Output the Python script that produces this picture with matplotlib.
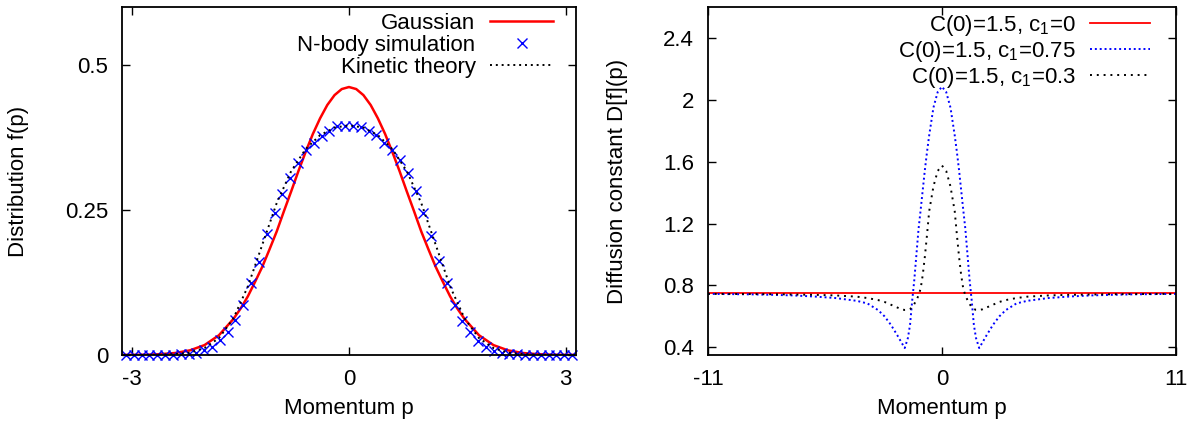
import numpy as np
import matplotlib
matplotlib.use('Agg')
import matplotlib.pyplot as plt

plt.rcParams['font.family'] = ['Liberation Sans', 'DejaVu Sans']
plt.rcParams['mathtext.fontset'] = 'custom'
plt.rcParams['mathtext.rm'] = 'Liberation Sans'
plt.rcParams['mathtext.it'] = 'Liberation Sans:italic'
plt.rcParams['axes.unicode_minus'] = False

# ---- left panel: distribution f(p) ----
gauss_p = [-3.2, -3.0, -2.8, -2.6, -2.4, -2.2, -2.0, -1.8, -1.6, -1.5, -1.4, -1.3, -1.2,
           -1.1, -1.0, -0.9, -0.8, -0.7, -0.6, -0.5, -0.4, -0.3, -0.2, -0.1, 0.0,
           0.1, 0.2, 0.3, 0.4, 0.5, 0.6, 0.7, 0.8, 0.9, 1.0, 1.1, 1.2, 1.3, 1.4, 1.5,
           1.6, 1.8, 2.0, 2.2, 2.4, 2.6, 2.8, 3.0, 3.2]
gauss_f = [0.0001, 0.0003, 0.0005, 0.0015, 0.0035, 0.008, 0.017, 0.034, 0.062, 0.080,
           0.101, 0.126, 0.152, 0.182, 0.213, 0.248, 0.282, 0.317, 0.350, 0.381, 0.408,
           0.431, 0.448, 0.4585, 0.462,
           0.4585, 0.448, 0.431, 0.408, 0.381, 0.350, 0.317, 0.282, 0.248, 0.213, 0.182,
           0.152, 0.126, 0.101, 0.080, 0.062, 0.034, 0.017, 0.008, 0.0035, 0.0015,
           0.0005, 0.0003, 0.0001]

kin_p = [-3.2, -3.0, -2.8, -2.6, -2.4, -2.2, -2.0, -1.8, -1.6, -1.4, -1.2, -1.0, -0.8,
         -0.6, -0.4, -0.2, 0.0, 0.2, 0.4, 0.6, 0.8, 1.0, 1.2, 1.4, 1.6, 1.8, 2.0,
         2.2, 2.4, 2.6, 2.8, 3.0, 3.2]
kin_f = [0.0, 0.0, 0.0, 0.0005, 0.0015, 0.004, 0.012, 0.029, 0.063, 0.118, 0.190,
         0.262, 0.317, 0.355, 0.379, 0.392, 0.396, 0.392, 0.379, 0.355, 0.317, 0.262,
         0.190, 0.118, 0.063, 0.029, 0.012, 0.004, 0.0015, 0.0005, 0.0, 0.0, 0.0]

# N-body histogram, 58 bins on [-pi, pi]
nbody_f = [0, 0, 0, 0, 0, 0, 0, 0.001, 0.002, 0.004, 0.008, 0.014, 0.025, 0.040, 0.060,
           0.087, 0.124, 0.161, 0.208, 0.244, 0.278, 0.306, 0.331, 0.353, 0.366, 0.378,
           0.386, 0.394, 0.395,
           0.395, 0.393, 0.387, 0.379, 0.366, 0.354, 0.337, 0.314, 0.283, 0.244, 0.205,
           0.162, 0.124, 0.087, 0.059, 0.039, 0.024, 0.013, 0.007, 0.004, 0.002, 0.001,
           0, 0, 0, 0, 0, 0, 0]
edges = np.linspace(-np.pi, np.pi, len(nbody_f) + 1)
nbody_p = 0.5 * (edges[1:] + edges[:-1])

# ---- right panel: diffusion constant D[f](p) ----
diff_p = [-11, -9, -8, -7, -6, -5, -4, -3.5, -3.0, -2.7, -2.4, -2.1, -1.9, -1.75, -1.6,
          -1.5, -1.4, -1.3, -1.2, -1.1, -1.0, -0.9, -0.8, -0.7, -0.6, -0.4, -0.2, 0.0,
          0.2, 0.4, 0.6, 0.7, 0.8, 0.9, 1.0, 1.1, 1.2, 1.3, 1.4, 1.5, 1.6, 1.75, 1.9,
          2.1, 2.4, 2.7, 3.0, 3.5, 4, 5, 6, 7, 8, 9, 11]
d_c0 = [0.75] * len(diff_p)
d_c075 = [0.745, 0.742, 0.739, 0.735, 0.728, 0.718, 0.700, 0.683, 0.640, 0.600, 0.545,
          0.478, 0.430, 0.395, 0.460, 0.545, 0.700, 0.835, 1.000, 1.165, 1.290, 1.420,
          1.550, 1.665, 1.770, 1.950, 2.050, 2.085,
          2.050, 1.950, 1.770, 1.665, 1.550, 1.420, 1.290, 1.165, 1.000, 0.835, 0.700,
          0.545, 0.460, 0.395, 0.430, 0.478, 0.545, 0.600, 0.640, 0.683, 0.700, 0.718,
          0.728, 0.735, 0.739, 0.742, 0.745]
d_c03 = [0.745, 0.744, 0.743, 0.741, 0.739, 0.735, 0.727, 0.718, 0.705, 0.693, 0.675,
         0.657, 0.645, 0.641, 0.642, 0.647, 0.658, 0.680, 0.705, 0.735, 0.780, 0.870,
         0.990, 1.130, 1.280, 1.440, 1.540, 1.575,
         1.540, 1.440, 1.280, 1.130, 0.990, 0.870, 0.780, 0.735, 0.705, 0.680, 0.658,
         0.647, 0.642, 0.641, 0.645, 0.657, 0.675, 0.693, 0.705, 0.718, 0.727, 0.735,
         0.739, 0.741, 0.743, 0.744, 0.745]


def style_axes(ax):
    for s in ax.spines.values():
        s.set_linewidth(1.3)
    ax.tick_params(axis='both', which='both', direction='in', length=6, width=1,
                   top=True, right=True, labelsize=16, pad=10)


fs = 16
fig = plt.figure(figsize=(12.04, 4.23), dpi=100)

ax = fig.add_axes([0.1013, 0.1608, 0.3771, 0.8227])
ax.plot(gauss_p, gauss_f, color='#ff0000', lw=1.8, label='Gaussian')
ax.plot(nbody_p, nbody_f, 'x', color='#0000ff', ms=7, mew=1.0, clip_on=False,
        label='N-body simulation')
ax.plot(kin_p, kin_f, color='k', lw=1.4, ls=(0, (1, 2)), label='Kinetic theory')
ax.set_xlim(-np.pi, np.pi)
ax.set_ylim(0, 0.6)
ax.set_xticks([-3, 0, 3])
ax.set_yticks([0, 0.25, 0.5])
ax.set_yticklabels(['0', '0.25', '0.5'])
ax.set_xlabel('Momentum p', fontsize=fs)
ax.set_ylabel('Distribution f(p)', fontsize=fs)
ax.xaxis.set_label_coords(0.5, -0.125)
ax.yaxis.set_label_coords(-0.205, 0.5)
style_axes(ax)
ax.legend(loc='upper right', bbox_to_anchor=(0.95, 0.983), frameon=False,
          markerfirst=False, fontsize=fs, borderpad=0, borderaxespad=0,
          labelspacing=0.05, handlelength=2.85, handletextpad=0.65)

ax = fig.add_axes([0.588, 0.1608, 0.3887, 0.8227])
ax.plot(diff_p, d_c0, color='#ff0000', lw=1.3, label='C(0)=1.5, c$_1$=0')
ax.plot(diff_p, d_c075, color='#0000ff', lw=1.4, ls=(0, (1, 1.5)),
        label='C(0)=1.5, c$_1$=0.75')
ax.plot(diff_p, d_c03, color='k', lw=1.4, ls=(0, (1, 2.5)),
        label='C(0)=1.5, c$_1$=0.3')
ax.set_xlim(-11, 11)
ax.set_ylim(0.35, 2.6)
ax.set_xticks([-11, 0, 11])
ax.set_yticks([0.4, 0.8, 1.2, 1.6, 2.0, 2.4])
ax.set_yticklabels(['0.4', '0.8', '1.2', '1.6', '2', '2.4'])
ax.set_xlabel('Momentum p', fontsize=fs)
ax.set_ylabel('Diffusion constant D[f](p)', fontsize=fs)
ax.xaxis.set_label_coords(0.5, -0.125)
ax.yaxis.set_label_coords(-0.17, 0.5)
style_axes(ax)
ax.legend(loc='upper right', bbox_to_anchor=(0.945, 0.983), frameon=False,
          markerfirst=False, fontsize=fs, borderpad=0, borderaxespad=0,
          labelspacing=0.05, handlelength=2.7, handletextpad=0.65)

fig.savefig('out.png', dpi=100)
